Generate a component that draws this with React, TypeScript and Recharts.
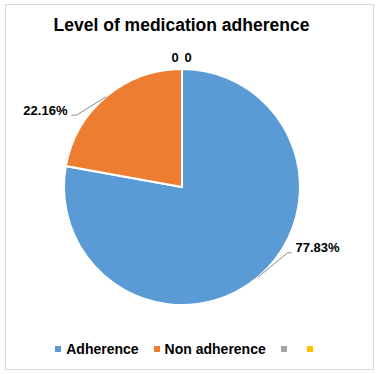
import { Legend, Pie, PieChart, Cell } from 'recharts'

// Slice data
const CATEGORIES = ['Adherence', 'Non adherence', '', '']
const VALUES = [77.83, 22.16, 0, 0]
const COLORS = ['#5B9BD5', '#ED7D31', '#A5A5A5', '#FFC000']

const data = CATEGORIES.map((name, i) => ({ name, value: VALUES[i] }))

const RAD = Math.PI / 180

function renderLabel(props: any) {
  const { cx, cy, midAngle, outerRadius, value, index } = props
  if (!value) {
    // zero slices sit at the top, side by side
    const dx = index === 2 ? -7 : 6
    return (
      <text
        key={`lbl-${index}`}
        x={cx + dx}
        y={cy - outerRadius - 12}
        textAnchor="middle"
        dominantBaseline="central"
        fontSize={13}
        fontWeight="bold"
        fill="#000"
      >
        0
      </text>
    )
  }
  const sx = cx + outerRadius * Math.cos(-midAngle * RAD)
  const sy = cy + outerRadius * Math.sin(-midAngle * RAD)
  const ea = midAngle + 17
  const ex = cx + (outerRadius + 8) * Math.cos(-ea * RAD)
  const ey = cy + (outerRadius + 8) * Math.sin(-ea * RAD) - 3
  const right = Math.cos(-midAngle * RAD) >= 0
  const hx = ex + (right ? 4 : -5)
  return (
    <g key={`lbl-${index}`}>
      <polyline
        points={`${sx},${sy} ${ex},${ey} ${hx},${ey}`}
        fill="none"
        stroke="#8c8c8c"
        strokeWidth={1}
      />
      <text
        x={hx + (right ? 4 : -4)}
        y={ey - 5}
        textAnchor={right ? 'start' : 'end'}
        dominantBaseline="central"
        fontSize={13}
        fontWeight="bold"
        fill="#000"
      >
        {`${value}%`}
      </text>
    </g>
  )
}

function renderLegend() {
  return (
    <div
      style={{
        display: 'flex',
        justifyContent: 'center',
        alignItems: 'center',
        fontFamily: '"Liberation Sans", Arial, sans-serif',
        fontSize: 14,
        fontWeight: 'bold',
        color: '#000',
      }}
    >
      {data.map((d, i) => (
        <div
          key={`leg-${i}`}
          style={{ display: 'flex', alignItems: 'center', marginRight: i < data.length - 1 ? 15 : 0 }}
        >
          <span style={{ width: 6, height: 6, background: COLORS[i], marginRight: 5, display: 'inline-block' }} />
          <span>{d.name}</span>
        </div>
      ))}
    </div>
  )
}

export default function App() {
  return (
    <div
      style={{
        position: 'absolute',
        left: 0,
        top: 0,
        width: 377,
        height: 374,
        background: '#fff',
        fontFamily: '"Liberation Sans", Arial, sans-serif',
      }}
    >
      <div
        style={{
          position: 'absolute',
          left: 5,
          top: 4,
          width: 367,
          height: 364,
          border: '1px solid #d9d9d9',
        }}
      />
      <div
        style={{
          position: 'absolute',
          left: 0,
          top: 15,
          width: 363,
          textAlign: 'center',
          fontSize: 17.5,
          fontWeight: 'bold',
          color: '#000',
        }}
      >
        Level of medication adherence
      </div>
      <div style={{ position: 'absolute', left: 0, top: 0 }}>
        <PieChart width={377} height={374} margin={{ top: 0, right: 0, bottom: 0, left: 0 }}>
          <Pie
            data={data}
            dataKey="value"
            nameKey="name"
            cx={182}
            cy={187}
            outerRadius={118}
            startAngle={90}
            endAngle={-270}
            stroke="#fff"
            strokeWidth={2}
            label={renderLabel}
            labelLine={false}
            isAnimationActive={false}
          >
            {data.map((_, i) => (
              <Cell key={`cell-${i}`} fill={COLORS[i]} />
            ))}
          </Pie>
          <Legend
            content={renderLegend}
            wrapperStyle={{ position: 'absolute', left: 0, top: 341, width: 373 }}
          />
        </PieChart>
      </div>
    </div>
  )
}
